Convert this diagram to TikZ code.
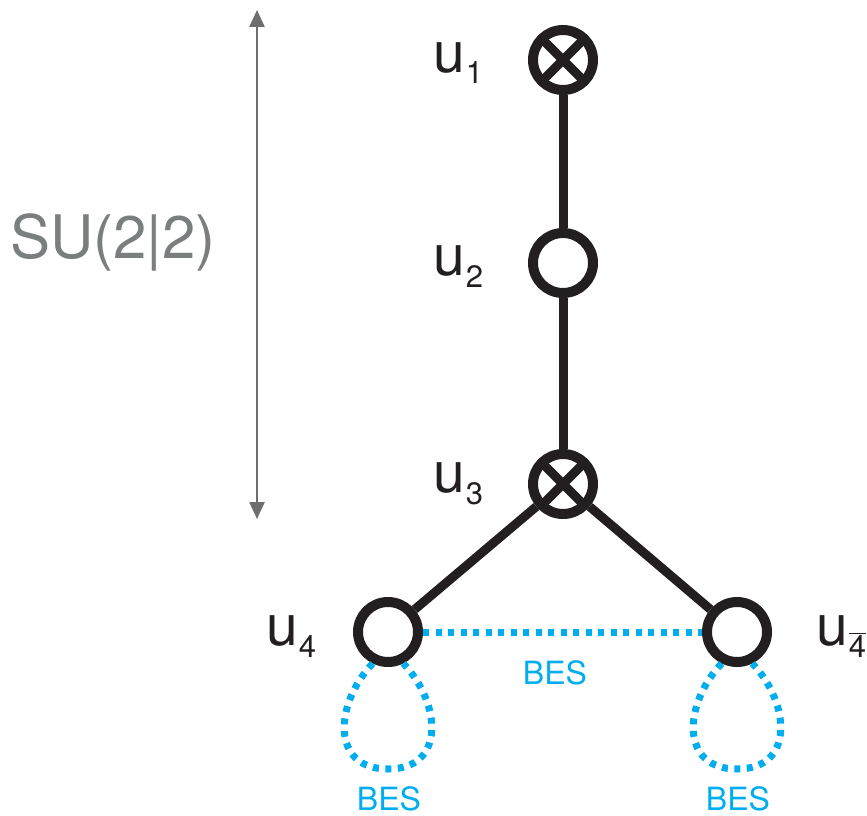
\documentclass[tikz,border=0pt]{standalone}
\usepackage{fontspec}
\setmainfont{TeX Gyre Heros}
\usetikzlibrary{arrows.meta,calc}
\definecolor{ink}{HTML}{231F20}
\definecolor{besblue}{HTML}{00AEEF}
\definecolor{arrgray}{HTML}{6E6E6E}
\definecolor{txtgray}{HTML}{7A7E7E}
\newcommand\ulab[1]{{\fontsize{57}{57}\selectfont u}\kern1pt\raisebox{-12pt}{\fontsize{31}{31}\selectfont #1}}
\begin{document}
\begin{tikzpicture}[x=1pt,y=-1pt,
  vtx/.style={circle,draw=ink,line width=10pt,minimum size=60pt,inner sep=0pt,fill=white},
  edge/.style={draw=ink,line width=9pt},
  bes/.style={draw=besblue,line width=7pt,dash pattern=on 6pt off 6.5pt},
  beslab/.style={text=besblue,font=\fontsize{32}{32}\selectfont,inner sep=0pt},
  ulabel/.style={anchor=base west,inner sep=0pt,text=ink}]
\useasboundingbox (0,0) rectangle (867,816);
% vertices
\node[vtx] (u1) at (563,60) {};
\node[vtx] (u2) at (563,263) {};
\node[vtx] (u3) at (563,484) {};
\node[vtx] (u4) at (388,632) {};
\node[vtx] (u4b) at (737,632) {};
% edges
\draw[edge] (u1) -- (u2);
\draw[edge] (u2) -- (u3);
\draw[edge] (u3) -- (u4);
\draw[edge] (u3) -- (u4b);
% crosses
\foreach \n in {u1,u3}{
  \draw[ink,line width=9pt] ($(\n.center)+(45:28)$) -- ($(\n.center)+(225:28)$);
  \draw[ink,line width=9pt] ($(\n.center)+(135:28)$) -- ($(\n.center)+(315:28)$);
}
% BES links
\draw[bes] (u4) -- (u4b);
\foreach \n in {u4,u4b}{
  \draw[bes] (\n.-116) .. controls +(-38,40) and +(-58,0) .. ($(\n.center)+(0,137)$)
                       .. controls +(58,0) and +(38,40) .. (\n.-64);
}
\node[beslab] (b0) at (555,673) {BES};
\node[beslab] (b1) at (389,799) {BES};
\node[beslab] (b2) at (738,799) {BES};
% labels
\node[ulabel] (l1) at (433,72) {\ulab{1}};
\node[ulabel] (l2) at (433,275) {\ulab{2}};
\node[ulabel] (l3) at (433,492) {\ulab{3}};
\node[ulabel] (l4) at (266,645) {\ulab{4}};
\node[ulabel] (l4b) at (816,645) {\ulab{$\overline{\mbox{4}}$}};
% SU(2|2) arrow
\coordinate (atop) at (257,10);
\coordinate (abot) at (257,519);
\draw[arrgray,line width=2.5pt,{Triangle[length=17pt,width=15pt]}-{Triangle[length=17pt,width=15pt]}] (atop) -- (abot);
\node[anchor=base,inner sep=0pt,text=txtgray,font=\fontsize{60}{60}\selectfont] (su) at (113,258) {SU(2|2)};
\end{tikzpicture}
\end{document}
